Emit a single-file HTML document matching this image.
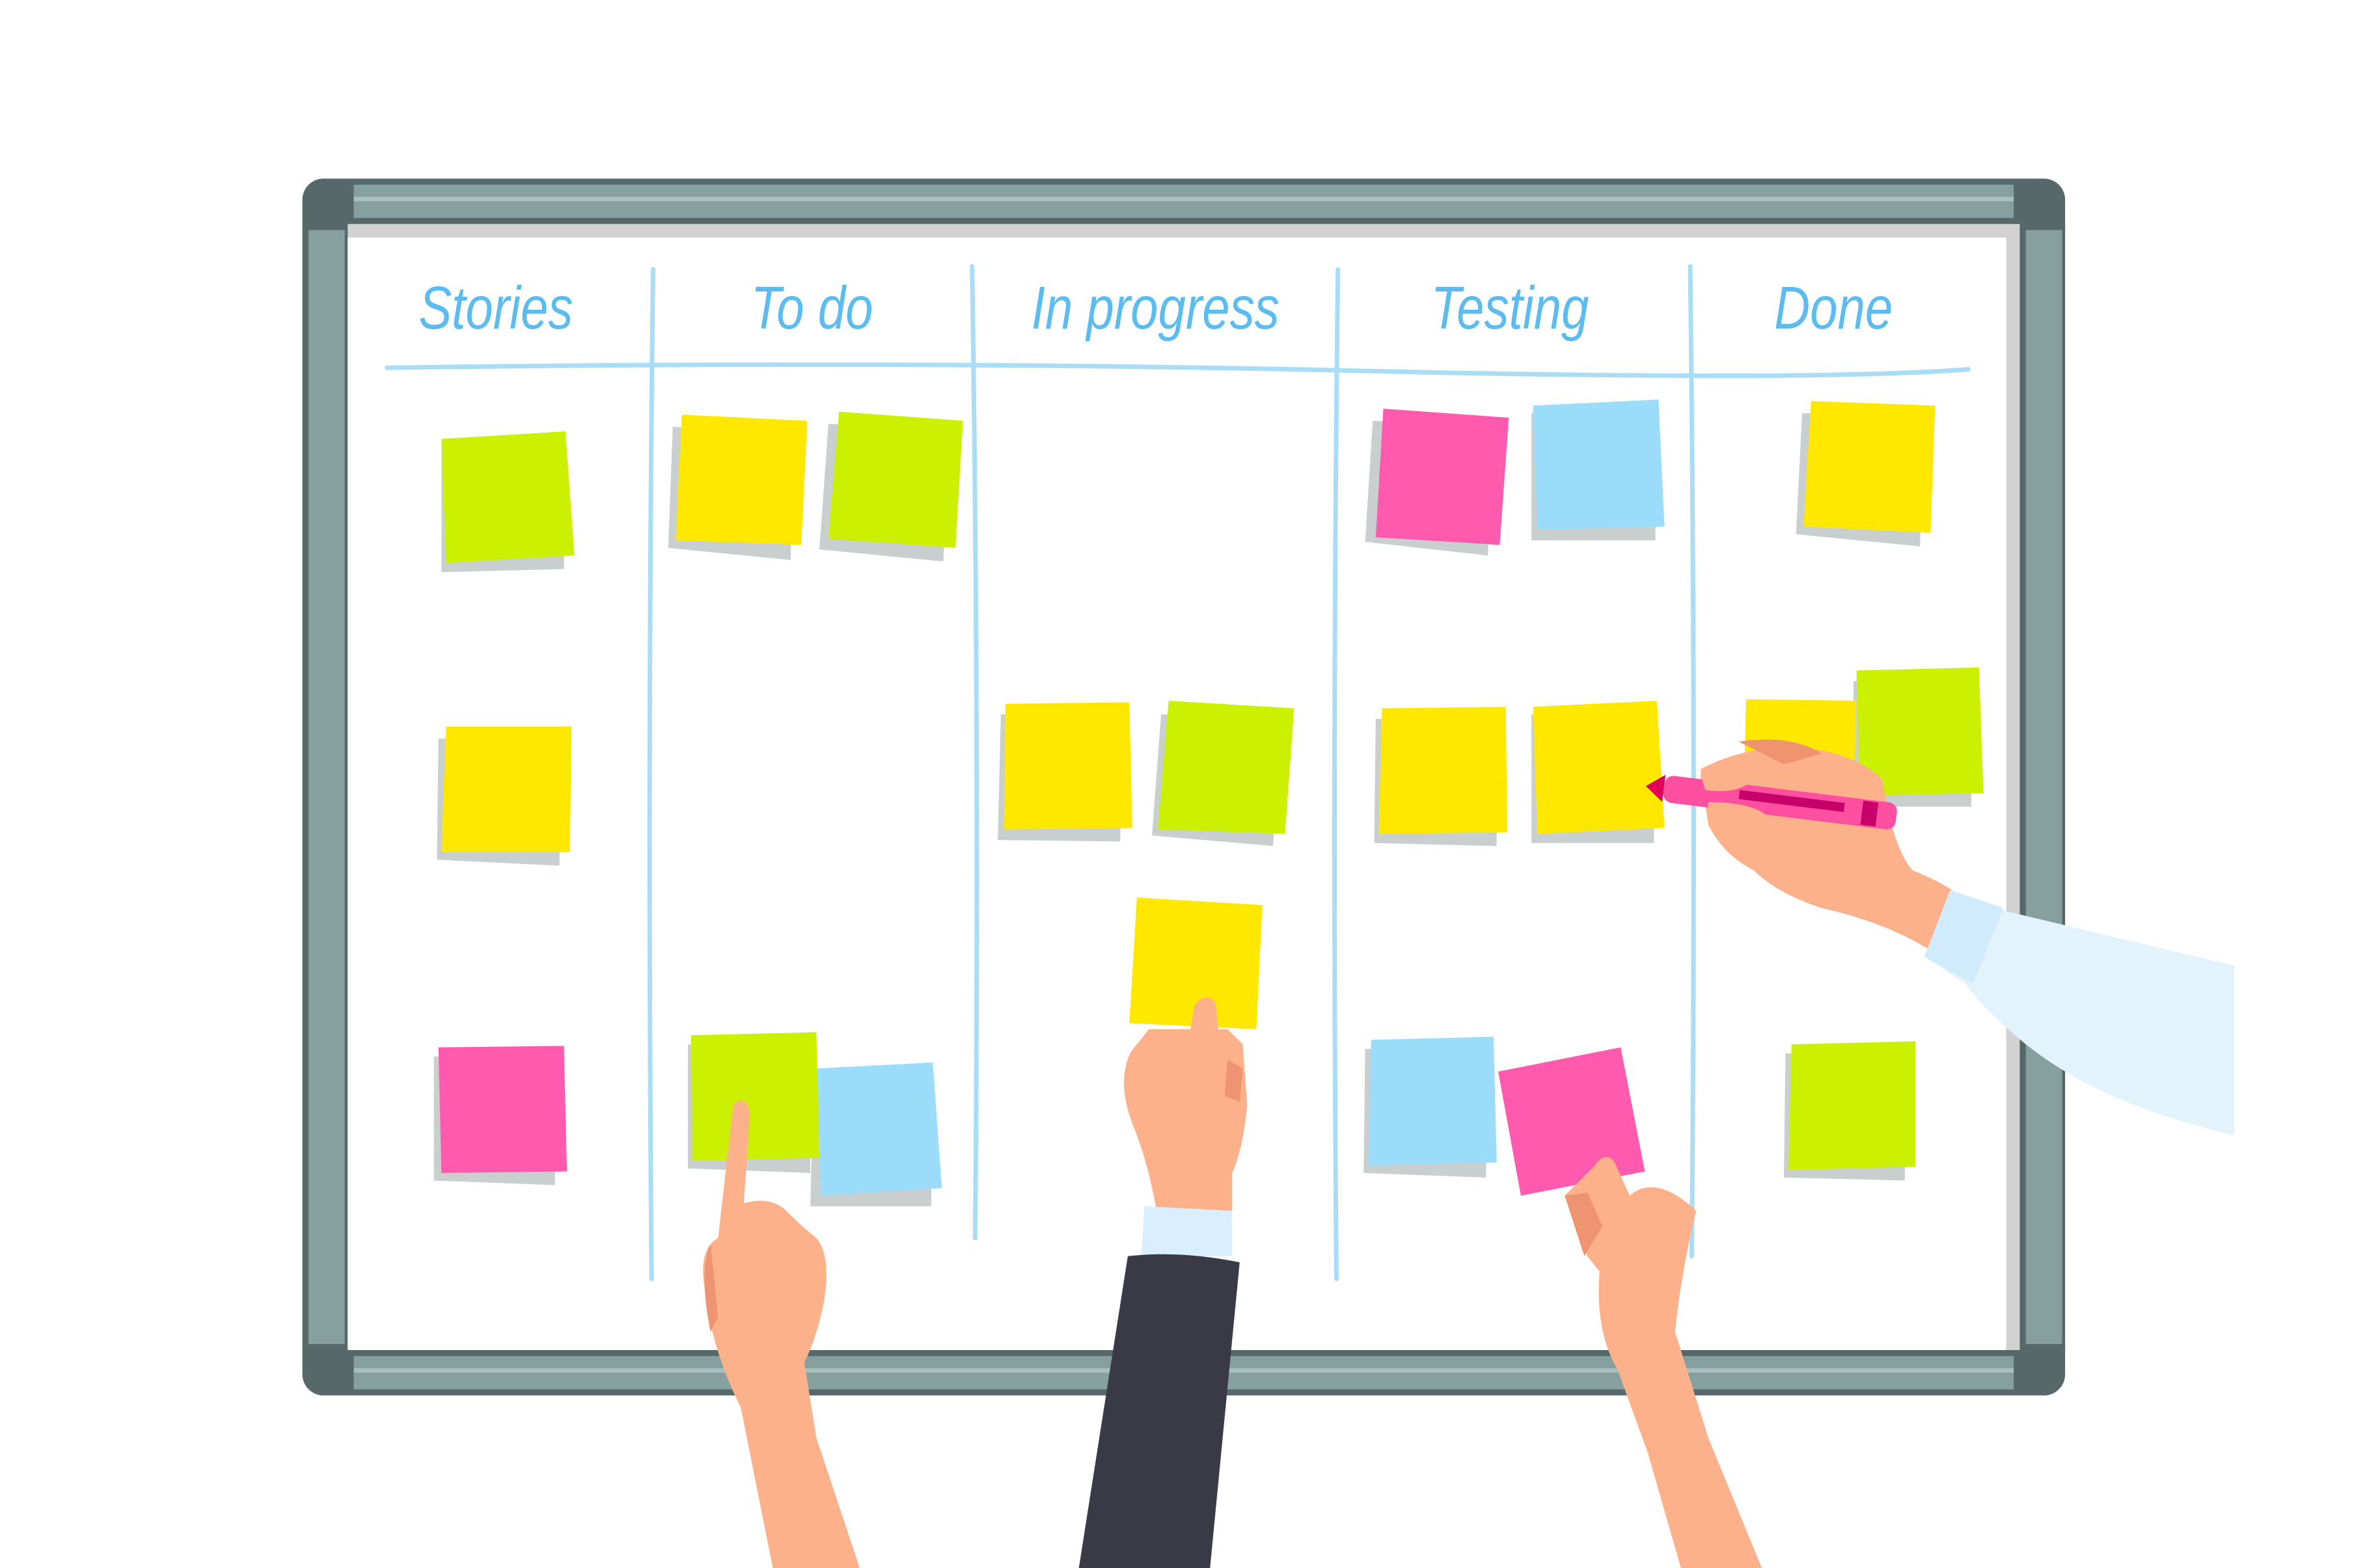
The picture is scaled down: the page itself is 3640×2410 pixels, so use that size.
<!DOCTYPE html>
<html><head><meta charset="utf-8"><style>
html,body{margin:0;padding:0;background:#fff;width:3640px;height:2410px;overflow:hidden}
svg{display:block}
text{font-family:"Liberation Sans",sans-serif;font-style:italic;fill:#5bbcf2}
</style></head><body>
<svg width="3640" height="2410" viewBox="0 0 1567 1036" preserveAspectRatio="none" xmlns="http://www.w3.org/2000/svg">
<rect width="1567" height="1040" fill="#fff"/>
<!-- frame -->
<rect x="200" y="118" width="1166" height="804" rx="14" fill="#56686a"/>
<rect x="234" y="122" width="1098" height="22" fill="#85a09f"/>
<rect x="234" y="896" width="1098" height="22" fill="#85a09f"/>
<rect x="204" y="152" width="24" height="736" fill="#85a09f"/>
<rect x="1340" y="152" width="24" height="736" fill="#85a09f"/>
<rect x="234" y="130" width="1098" height="3" fill="#a8bfbe"/>
<rect x="234" y="904" width="1098" height="3" fill="#a8bfbe"/>
<rect x="230" y="148" width="1106" height="744" fill="#d2d2d2"/>
<rect x="230" y="157" width="1097" height="735" fill="#fff"/>
<!-- headers -->
<g font-size="40" transform="scale(0.82,1)">
<text x="400" y="217" text-anchor="middle">Stories</text>
<text x="655" y="217" text-anchor="middle">To do</text>
<text x="932" y="217" text-anchor="middle">In progress</text>
<text x="1218" y="217" text-anchor="middle">Testing</text>
<text x="1479" y="217" text-anchor="middle">Done</text>
</g>
<g stroke="#a8dcf7" stroke-width="3" fill="none" stroke-linecap="round">
<path d="M256 243 Q600 238 900 245 T1302 244"/>
<path d="M432 178 Q428 500 431 845"/>
<path d="M643 176 Q648 500 645 818"/>
<path d="M885 178 Q881 500 884 845"/>
<path d="M1118 176 Q1122 500 1119 830"/>
</g>
<!-- notes -->
<g>
<g fill="#c9cfcf">
<polygon points="292,293 374,291 373,376 292,378"/>
<polygon points="290,488 372,490 370,572 289,568"/>
<polygon points="287,698 368,700 367,783 287,780"/>
<polygon points="445,282 525,285 523,370 442,362"/>
<polygon points="548,280 628,285 624,371 542,363"/>
<polygon points="455,690 535,690 536,775 455,772"/>
<polygon points="538,710 616,710 616,797 536,797"/>
<polygon points="662,472 742,472 741,556 660,555"/>
<polygon points="768,472 848,472 842,559 762,552"/>
<polygon points="908,278 990,282 984,367 903,358"/>
<polygon points="1013,273 1095,273 1095,357 1013,357"/>
<polygon points="910,475 990,475 990,559 909,557"/>
<polygon points="1013,472 1094,472 1094,557 1013,557"/>
<polygon points="903,693 983,693 983,778 902,775"/>
<polygon points="1192,273 1273,273 1270,361 1188,353"/>
<polygon points="1226,450 1304,450 1304,533 1226,533"/>
<polygon points="1181,696 1260,696 1260,780 1180,778"/>
</g>
<polygon points="292,290 374,285 380,367 295,372" fill="#cbf100"/>
<polygon points="295,480 378,480 377,563 292,563" fill="#ffe800"/>
<polygon points="290,692 373,691 375,774 292,775" fill="#ff5aad"/>
<polygon points="451,274 534,278 530,360 447,357" fill="#ffe800"/>
<polygon points="555,272 637,278 632,362 548,356" fill="#cbf100"/>
<polygon points="540,706 617,702 623,785 543,790" fill="#9bdcfb"/>
<polygon points="457,684 540,682 542,765 458,767" fill="#cbf100"/>
<polygon points="665,465 747,464 749,547 664,548" fill="#ffe800"/>
<polygon points="773,463 856,468 850,551 766,548" fill="#cbf100"/>
<polygon points="915,270 998,276 992,360 910,355" fill="#ff5aad"/>
<polygon points="1014,268 1097,264 1101,348 1017,350" fill="#9bdcfb"/>
<polygon points="914,468 996,467 997,550 912,551" fill="#ffe800"/>
<polygon points="1014,467 1096,463 1101,547 1017,551" fill="#ffe800"/>
<polygon points="1155,462 1228,463 1226,540 1153,540" fill="#ffe800"/>
<polygon points="1228,443 1309,441 1312,524 1230,526" fill="#cbf100"/>
<polygon points="1198,265 1280,268 1277,352 1193,348" fill="#ffe800"/>
<polygon points="907,687 988,685 990,768 905,770" fill="#9bdcfb"/>
<polygon points="1185,690 1267,688 1267,771 1183,773" fill="#cbf100"/>
<polygon points="752,593 835,598 831,680 747,676" fill="#ffe800"/>
<polygon points="991,708 1072,692 1088,774 1006,790" fill="#ff5aad"/>
</g>
<!-- hands -->
<g fill="#fdb18a">
<path d="M485 730 Q493 722 496 735 L492 795 Q510 790 520 800 Q530 810 540 818 Q550 830 545 860 Q540 885 532 900 L540 950 L570 1040 L512 1040 L490 930 Q470 890 466 850 Q462 825 475 818 Z"/>
<path d="M470 822 Q462 840 470 880 L475 870 Z" fill="#ef9470"/>
<path d="M760 680 L812 680 L822 690 L825 730 Q822 760 815 775 L815 800 L765 800 Q760 770 750 745 Q738 715 748 695 Z"/>
<path d="M790 665 Q796 655 804 662 L810 720 L806 728 L798 720 L780 725 Z" fill="#fdb18a"/>
<path d="M812 700 L822 706 L820 728 L810 724 Z" fill="#ef9470"/>
<path d="M1035 790 L1055 770 Q1062 760 1068 768 L1078 790 Q1095 775 1122 800 Q1112 840 1108 880 L1130 950 L1167 1040 L1113 1040 L1090 960 L1070 905 Q1055 880 1058 840 L1050 830 Z"/>
<path d="M1035 790 L1050 788 L1060 810 L1048 830 Z" fill="#ef9470"/>
<path d="M1125 508 Q1160 490 1200 495 Q1230 500 1245 515 Q1252 560 1265 575 Q1290 585 1300 595 L1280 630 Q1250 610 1205 600 Q1175 590 1160 575 Q1140 565 1130 545 Q1128 530 1125 520 Z"/>
<path d="M1150 490 Q1185 485 1205 498 L1180 505 Z" fill="#ef9470"/>
</g>
<polygon points="757,797 815,800 815,830 755,830" fill="#d9efff"/>
<path d="M746 830 Q780 826 820 834 L800 1040 L713 1040 Z" fill="#393a45"/>
<path d="M1290 588 L1310 598 L1478 638 L1478 750 Q1390 730 1340 690 Q1310 665 1300 650 L1273 632 Z" fill="#e2f3fc"/>
<path d="M1290 588 L1325 600 L1305 650 L1273 632 Z" fill="#d0ebfb"/>
<g transform="rotate(7 1175 530)">
<rect x="1100" y="521" width="155" height="18" rx="6" fill="#ff4fa0"/>
<rect x="1150" y="525" width="70" height="6" fill="#c8006a"/>
<rect x="1232" y="522" width="10" height="16" fill="#c8006a"/>
<polygon points="1100,521 1088,530 1100,539" fill="#e0005a"/>
</g>
<path d="M1130 530 Q1160 530 1170 540 Q1165 552 1140 548 Q1128 545 1130 530 Z" fill="#fdb18a"/>
<path d="M1125 512 Q1150 505 1160 515 Q1150 525 1128 522 Z" fill="#fdb18a"/>
</svg>
</body></html>
